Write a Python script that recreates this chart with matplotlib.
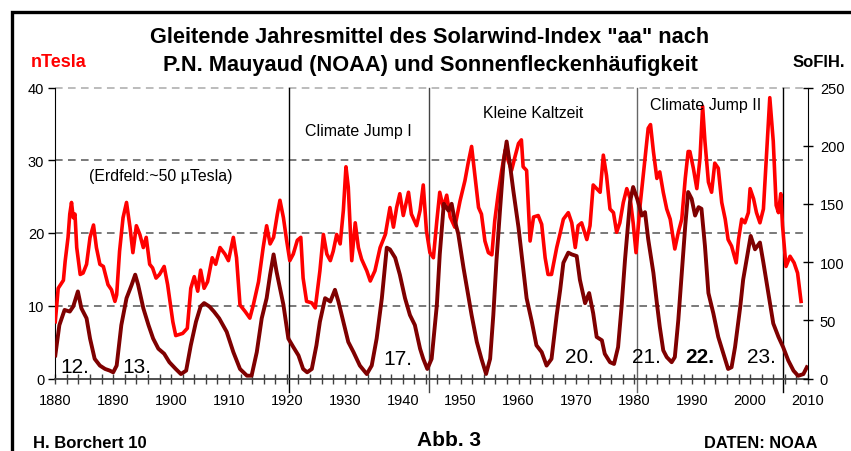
import matplotlib
matplotlib.use("Agg")
import matplotlib.pyplot as plt
from matplotlib.ticker import MultipleLocator
from matplotlib.lines import Line2D

plt.rcParams['font.family'] = ['Liberation Sans', 'DejaVu Sans']

# Solarwind-Index "aa" (nTesla), gleitendes Jahresmittel
aa_years = [1880.0, 1880.5, 1881.4, 1881.7, 1882.2, 1882.5, 1882.8, 1883.1, 1883.4, 1883.7,
            1884.3, 1884.8, 1885.4, 1886.0, 1886.6, 1887.1, 1887.7, 1888.3, 1889.1, 1889.7,
            1890.3, 1890.6, 1891.1, 1891.7, 1892.3, 1892.9, 1893.4, 1894.0, 1894.6, 1895.2,
            1895.7, 1896.3, 1896.8, 1897.4, 1898.0, 1898.8, 1899.4, 1900.3, 1900.8, 1902.0,
            1902.8, 1903.4, 1904.0, 1904.6, 1905.1, 1905.7, 1906.3, 1907.1, 1907.7,
            1908.45, 1909.3, 1909.9, 1910.75, 1911.3, 1911.9, 1912.8, 1913.6, 1914.2, 1915.1,
            1915.9, 1916.5, 1917.1, 1917.7, 1918.35, 1918.8, 1919.4, 1919.95, 1920.5, 1921.1,
            1921.8, 1922.4, 1922.8, 1923.4, 1924.3, 1924.9, 1925.7, 1926.3, 1926.9, 1927.5,
            1928.0, 1928.6, 1929.2, 1929.75, 1930.2, 1930.6, 1931.2, 1931.8, 1932.35, 1932.9,
            1933.8, 1934.4, 1935.2, 1936.1, 1937.0,
            1937.8, 1938.4, 1938.95, 1939.5, 1940.1, 1941.0, 1941.5, 1942.4, 1943.0, 1943.55,
            1944.1, 1944.7, 1945.3, 1945.9, 1946.4, 1947.0, 1947.6, 1948.2, 1949.0, 1949.9,
            1950.75, 1951.3, 1951.9, 1952.5, 1953.1, 1953.6, 1954.2, 1954.8, 1955.4, 1955.9,
            1956.5, 1957.1, 1957.7, 1958.2, 1958.8, 1959.4, 1960.0, 1960.5, 1960.8, 1961.4,
            1962.0, 1962.6, 1963.4, 1964.0, 1964.6, 1965.1, 1965.7, 1966.6,
            1967.2, 1967.75, 1968.6, 1969.2, 1969.8, 1970.3, 1970.9, 1971.8, 1972.35, 1972.9,
            1973.5, 1974.1, 1974.65, 1975.2, 1975.8, 1976.4, 1976.95, 1977.5, 1978.1, 1978.7,
            1979.3, 1979.8, 1980.3, 1981.0, 1981.85, 1982.4, 1982.8, 1983.3, 1983.9, 1984.4,
            1985.0, 1985.6, 1986.2, 1987.0, 1987.6, 1988.2, 1988.8, 1989.3,
            1989.6, 1990.2, 1990.8, 1991.35, 1991.8, 1992.2, 1992.8, 1993.35, 1993.9, 1994.5,
            1995.1, 1995.7, 1996.2, 1996.8, 1997.6, 1998.0, 1998.55, 1999.1, 1999.7, 2000.0,
            2000.6, 2001.1, 2001.7, 2002.3, 2002.9, 2003.4, 2004.0, 2004.5, 2004.9, 2005.3,
            2005.6, 2006.2, 2006.9, 2007.6, 2008.2, 2008.8]
aa_values = [7.8, 12.4, 13.5, 16.1, 19.4, 22.6, 24.2, 22.1, 22.6, 18.0,
             14.3, 14.5, 15.7, 19.4, 21.1, 18.0, 15.7, 15.4, 12.9, 12.2,
             10.6, 11.5, 17.5, 22.1, 24.2, 20.8, 17.3, 21.0, 19.8, 18.0,
             19.4, 15.7, 15.2, 13.8, 14.3, 15.4, 12.9, 7.8, 5.9, 6.2,
             6.9, 12.4, 14.0, 12.0, 14.9, 12.4, 13.3, 16.6, 15.7,
             18.0, 17.1, 16.2, 19.4, 16.6, 10.1, 9.2, 8.3, 10.1, 13.3,
             18.0, 21.0, 18.5, 19.4, 22.6, 24.5, 22.1, 19.0, 16.2, 17.1,
             19.0, 19.4, 13.8, 10.6, 10.4, 9.7, 14.8, 19.8, 17.1, 16.2,
             17.5, 19.8, 18.5, 23.1, 29.1, 26.3, 16.2, 21.4, 18.0, 16.4,
             14.8, 13.4, 14.8, 18.0, 19.8,
             23.5, 20.8, 23.5, 25.4, 22.4, 25.6, 22.6, 21.0, 23.1, 26.6,
             20.3, 17.3, 16.6, 21.7, 25.6, 23.5, 25.2, 22.2, 20.8, 24.4,
             27.2, 29.6, 31.9, 27.7, 23.5, 22.6, 18.9, 17.3, 17.0, 21.7,
             25.4, 28.6, 31.4, 30.0, 28.6, 30.5, 32.3, 32.8, 29.1, 28.6,
             18.9, 22.2, 22.4, 21.2, 16.6, 14.3, 14.3, 18.0,
             20.0, 21.9, 22.8, 21.4, 18.0, 21.0, 21.4, 19.1, 21.0, 26.6,
             26.1, 25.6, 30.7, 27.9, 23.3, 22.8, 20.1, 21.4, 24.2, 26.1,
             24.7, 21.4, 17.3, 23.8, 30.3, 34.4, 34.9, 31.2, 27.5, 28.4,
             25.6, 23.3, 21.9, 17.8, 20.1, 21.9, 27.5, 31.2,
             31.2, 28.9, 26.1, 30.3, 37.4, 32.6, 27.0, 25.6, 29.6, 28.9,
             24.2, 21.9, 19.1, 18.2, 15.9, 19.1, 21.9, 21.4, 22.8, 26.1,
             24.7, 22.8, 21.4, 23.3, 31.6, 38.6, 32.6, 23.8, 22.8, 25.4,
             21.0, 15.4, 16.8, 15.9, 14.5, 10.6]

# Sonnenfleckenhaeufigkeit (rechte Achse)
ssn_years = [1880.0, 1880.7, 1881.6, 1882.5, 1883.1, 1883.9, 1884.5, 1885.4, 1886.0, 1886.8,
             1887.7, 1888.6, 1889.4, 1890.0, 1890.6, 1891.4, 1892.3, 1893.2, 1893.8, 1894.3,
             1895.2, 1896.1, 1896.9, 1897.8, 1898.8, 1899.7, 1900.8, 1901.7, 1902.6, 1903.4,
             1904.3, 1905.1, 1905.7, 1906.6, 1907.4, 1908.3,
             1909.6, 1910.75, 1911.9, 1913.1, 1913.9, 1914.8, 1915.65, 1916.5, 1917.1, 1917.7,
             1918.2, 1918.8, 1919.4, 1920.25, 1921.1, 1922.0, 1922.8, 1923.5, 1924.3, 1925.1,
             1925.7, 1926.6, 1927.5, 1928.3, 1928.9, 1929.75, 1930.6, 1931.5, 1932.6, 1933.8,
             1934.65, 1935.5, 1936.4, 1937.25,
             1937.8, 1938.7, 1939.5, 1940.4, 1941.25, 1942.1, 1943.0, 1943.55, 1944.25, 1945.0,
             1945.9, 1946.4, 1947.1, 1947.9, 1948.45, 1949.0, 1949.6, 1950.5, 1951.3, 1951.9,
             1952.8, 1953.6, 1954.4, 1955.1, 1955.65, 1956.2, 1956.8, 1957.4, 1957.95, 1958.5,
             1959.1, 1960.0, 1960.8, 1961.4, 1962.3, 1963.1, 1964.0, 1964.85, 1965.7, 1966.6,
             1967.2, 1967.75, 1968.6, 1969.2, 1970.05, 1970.6, 1971.5, 1972.2, 1972.9, 1973.5,
             1974.4, 1974.9, 1975.8, 1976.5, 1977.2, 1977.8, 1978.4, 1979.25, 1979.8, 1980.5,
             1981.3, 1981.85, 1982.4, 1983.3, 1983.9, 1984.4, 1985.0, 1985.6, 1986.45, 1987.0,
             1987.6, 1988.2, 1988.8, 1989.3, 1989.9,
             1990.5, 1991.1, 1991.6, 1992.2, 1992.8, 1993.65, 1994.5, 1995.4, 1996.2, 1996.8,
             1997.4, 1998.3, 1998.8, 1999.4, 2000.1, 2000.85, 2001.7, 2002.3, 2003.15, 2004.0,
             2004.9, 2005.7, 2006.6, 2007.5, 2008.3, 2009.2, 2009.8]
ssn_values = [19.8, 45.8, 58.9, 57.5, 61.9, 74.8, 60.4, 51.7, 34.3, 16.9,
              11.1, 8.2, 6.8, 5.3, 11.1, 45.8, 69.0, 80.6, 89.2, 80.6,
              60.4, 45.8, 34.3, 25.6, 21.3, 14.0, 8.2, 3.8, 6.8, 28.5,
              48.8, 61.9, 64.8, 61.9, 57.5, 51.7,
              40.1, 22.7, 8.2, 2.4, 2.4, 22.7, 51.7, 69.0, 89.2, 106.6,
              92.1, 77.7, 63.3, 34.3, 27.1, 19.8, 8.2, 5.3, 8.2, 28.5,
              48.8, 69.0, 66.1, 76.2, 66.1, 48.8, 31.4, 22.7, 11.1, 3.8,
              11.1, 34.3, 69.0, 112.4,
              110.9, 103.7, 89.3, 69.0, 54.5, 45.9, 25.6, 16.9, 8.2, 16.9,
              63.3, 106.6, 150.1, 144.3, 150.1, 135.6, 124.1, 95.1, 72.0, 54.5,
              31.4, 16.9, 3.9, 16.9, 54.5, 101.6, 144.3, 184.7, 203.6, 184.7,
              161.6, 129.8, 95.1, 69.0, 48.8, 28.5, 22.7, 11.1, 16.9, 54.5,
              76.2, 99.4, 108.1, 106.6, 105.2, 84.9, 64.7, 73.4, 56.0, 35.7,
              32.8, 21.2, 14.0, 12.5, 27.0, 61.7, 102.3, 151.5, 164.5, 154.4,
              140.0, 142.9, 119.7, 90.7, 64.7, 44.4, 24.2, 18.4, 14.0, 18.4,
              50.2, 90.7, 131.2, 160.2, 154.4,
              140.0, 147.2, 145.8, 114.0, 73.4, 56.0, 35.7, 21.2, 8.2, 9.7,
              27.0, 61.7, 84.9, 102.3, 122.5, 111.0, 116.8, 99.4, 73.4, 47.3,
              35.7, 27.0, 15.4, 6.7, 2.3, 3.8, 9.7]

period_lines = [1920.3, 1944.5, 1980.4, 2005.7]
period_colors = ['black', '#444444', '#666666', 'black']
cycle_labels = ['12.', '13.', '17.', '20.', '21.', '22.', '23.']

W, H = 851, 452


def px(x, y):
    """Pixel position (from top left) -> figure fraction."""
    return x / W, 1 - y / H


fig = plt.figure(figsize=(W / 100, H / 100), dpi=100)
fig.patch.set_facecolor('white')

ax = fig.add_axes([55.3 / W, 1 - 379.5 / H, (808 - 55.3) / W, (379.5 - 88.5) / H])
ax.set_xlim(1880, 2010)
ax.set_ylim(0, 40)

# dashed gridlines
for yv in [10, 20, 30]:
    ax.axhline(yv, color='#555555', lw=1.1, ls=(0, (5, 3.5)), zorder=1)
ax.axhline(40, color='#aaaaaa', lw=1.1, ls=(0, (5, 3.5)), zorder=1, clip_on=False)

# period separators
for xv, col in zip(period_lines, period_colors):
    ax.plot([xv, xv], [-0.045, 1.0], color=col, lw=1.0, zorder=2,
            transform=ax.get_xaxis_transform(), clip_on=False)

ax.plot(aa_years, aa_values, color='#ff0000', lw=2.6, zorder=3, solid_joinstyle='round')

ax2 = ax.twinx()
ax2.set_ylim(0, 250)
ax2.plot(ssn_years, ssn_values, color='#7f0000', lw=2.8, zorder=3, solid_joinstyle='round')

for s in ['top', 'right']:
    ax.spines[s].set_visible(False)
for s in ['top', 'left', 'bottom']:
    ax2.spines[s].set_visible(False)
ax.spines['bottom'].set_color('#404040')
ax.spines['bottom'].set_linewidth(1.3)
ax.spines['left'].set_color('black')
ax2.spines['right'].set_color('black')

ax.xaxis.set_major_locator(MultipleLocator(10))
ax.xaxis.set_minor_locator(MultipleLocator(2))
ax.tick_params(axis='x', which='both', direction='inout', length=7, width=1,
               color='#404040', labelsize=10.5, pad=7)
ax.yaxis.set_major_locator(MultipleLocator(10))
ax.tick_params(axis='y', direction='out', length=5, width=1, labelsize=10.5, pad=3)
ax2.yaxis.set_major_locator(MultipleLocator(50))
ax2.tick_params(axis='y', direction='inout', length=7, width=1, labelsize=10.5, pad=5)

# titles and axis captions
fig.text(*px(430, 43), 'Gleitende Jahresmittel des Solarwind-Index "aa" nach',
         ha='center', va='baseline', fontsize=15.7, fontweight='bold')
fig.text(*px(430, 71), 'P.N. Mauyaud (NOAA) und Sonnenfleckenhäufigkeit',
         ha='center', va='baseline', fontsize=15.7, fontweight='bold')
fig.text(*px(31, 67), 'nTesla', ha='left', va='baseline', fontsize=13,
         fontweight='bold', color='#ff0000')
fig.text(*px(845, 67), 'SoFlH.', ha='right', va='baseline', fontsize=12,
         fontweight='bold')

# annotations inside the plot
fig.text(*px(161, 181), '(Erdfeld:~50 µTesla)', ha='center', va='baseline', fontsize=11.4)
fig.text(*px(358, 136), 'Climate Jump I', ha='center', va='baseline', fontsize=11.5)
fig.text(*px(533, 118), 'Kleine Kaltzeit', ha='center', va='baseline', fontsize=11.4)
fig.text(*px(706, 110), 'Climate Jump II', ha='center', va='baseline', fontsize=11.5)

cycle_pos = [(60, 373), (122, 373), (383, 365), (565, 363), (632, 363), (685, 363), (747, 363)]
for lab, (cx, cy) in zip(cycle_labels, cycle_pos):
    fig.text(*px(cx, cy), lab, ha='left', va='baseline', fontsize=15,
             fontweight='bold' if lab == '22.' else 'normal')

# footer
fig.text(*px(33, 448), 'H. Borchert 10', ha='left', va='baseline', fontsize=12, fontweight='bold')
fig.text(*px(449, 446), 'Abb. 3', ha='center', va='baseline', fontsize=15, fontweight='bold')
fig.text(*px(818, 448), 'DATEN: NOAA', ha='right', va='baseline', fontsize=11.8, fontweight='bold')

# outer frame (cut off at right and bottom)
fig.add_artist(Line2D([11.5 / W, 11.5 / W, 1.01], [-0.01, 1 - 13 / H, 1 - 13 / H],
                      transform=fig.transFigure, color='black', lw=2.4,
                      solid_joinstyle='miter'))

fig.savefig('out.png', dpi=100)
